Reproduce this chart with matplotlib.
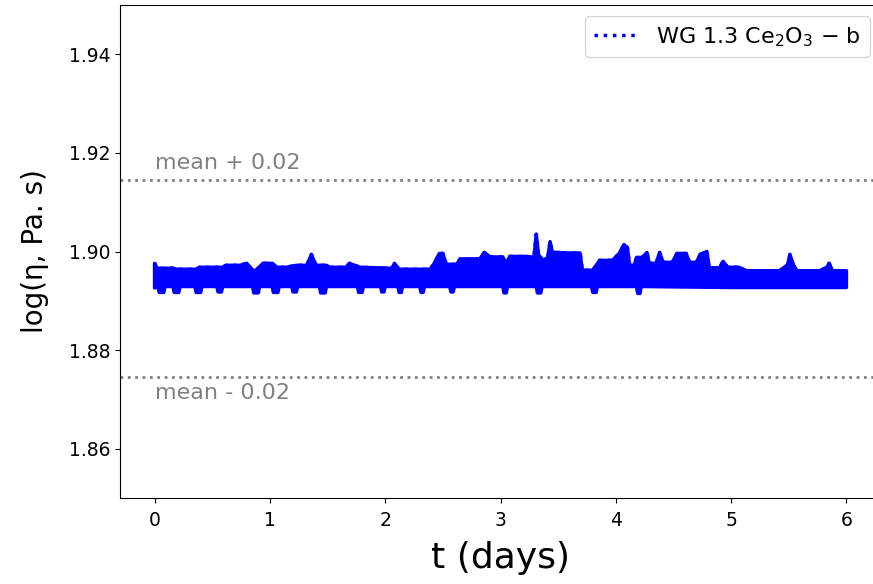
import numpy as np
import matplotlib
matplotlib.use('Agg')
import matplotlib.pyplot as plt

# Envelope of the viscosity record (days, log eta)
t_upper = [0.00, 0.02, 0.16, 0.19, 0.36, 0.39, 0.59, 0.62, 0.74, 0.80,
           0.85, 0.88, 0.94, 1.02, 1.06, 1.14, 1.23, 1.32, 1.36, 1.40,
           1.49, 1.52, 1.66, 1.69, 1.78, 2.06, 2.08, 2.12, 2.39, 2.42,
           2.47, 2.50, 2.53, 2.62, 2.65, 2.82, 2.86, 2.91, 3.02, 3.05,
           3.08, 3.23, 3.29, 3.31, 3.33, 3.37, 3.41, 3.43, 3.45, 3.51,
           3.57, 3.69, 3.71, 3.80, 3.86, 3.97, 4.03, 4.07, 4.10, 4.12,
           4.16, 4.18, 4.23, 4.27, 4.29, 4.35, 4.38, 4.41, 4.49, 4.53,
           4.61, 4.64, 4.70, 4.73, 4.79, 4.81, 4.90, 4.93, 4.97, 5.07,
           5.13, 5.42, 5.49, 5.51, 5.54, 5.57, 5.77, 5.83, 5.85, 5.88,
           6.00]
eta_upper = [1.8976, 1.8966, 1.8966, 1.8964, 1.8964, 1.8968, 1.8968, 1.8972, 1.8972, 1.8976,
             1.8962, 1.8962, 1.8976, 1.8976, 1.8968, 1.8968, 1.8972, 1.8972, 1.8994, 1.8972,
             1.8972, 1.8968, 1.8968, 1.8976, 1.8968, 1.8966, 1.8976, 1.8964, 1.8964, 1.8974,
             1.8996, 1.8996, 1.8974, 1.8974, 1.8985, 1.8985, 1.8998, 1.8989, 1.8989, 1.8976,
             1.8990, 1.8990, 1.8988, 1.9035, 1.8993, 1.8982, 1.8988, 1.9020, 1.8998, 1.8998,
             1.8997, 1.8997, 1.8962, 1.8962, 1.8982, 1.8982, 1.8996, 1.9014, 1.9008, 1.8972,
             1.8972, 1.8988, 1.8988, 1.8998, 1.8976, 1.8976, 1.8998, 1.8978, 1.8978, 1.8996,
             1.8996, 1.8978, 1.8978, 1.8994, 1.9000, 1.8967, 1.8967, 1.8980, 1.8968, 1.8968,
             1.8961, 1.8961, 1.8973, 1.8994, 1.8973, 1.8961, 1.8961, 1.8968, 1.8976, 1.8961,
             1.8961]

t_lower = [0.00, 0.03, 0.04, 0.08, 0.09, 0.16, 0.17, 0.21, 0.22, 0.35,
           0.36, 0.40, 0.41, 0.54, 0.55, 0.58, 0.59, 0.85, 0.86, 0.90,
           0.91, 1.02, 1.03, 1.07, 1.08, 1.19, 1.20, 1.23, 1.24, 1.43,
           1.44, 1.48, 1.49, 1.76, 1.77, 1.80, 1.81, 1.96, 1.97, 1.99,
           2.00, 2.11, 2.12, 2.14, 2.15, 2.30, 2.31, 2.33, 2.34, 2.56,
           2.57, 2.59, 2.60, 3.02, 3.03, 3.05, 3.06, 3.31, 3.32, 3.35,
           3.36, 3.79, 3.80, 3.83, 3.84, 4.18, 4.19, 4.21, 4.22, 5.00,
           6.00]
eta_lower = [1.8926, 1.8928, 1.8917, 1.8917, 1.8929, 1.8929, 1.8917, 1.8917, 1.8929, 1.8929,
             1.8917, 1.8917, 1.8929, 1.8929, 1.8918, 1.8918, 1.8929, 1.8929, 1.8916, 1.8916,
             1.8929, 1.8929, 1.8917, 1.8917, 1.8929, 1.8929, 1.8918, 1.8918, 1.8929, 1.8929,
             1.8916, 1.8916, 1.8929, 1.8929, 1.8917, 1.8917, 1.8929, 1.8929, 1.8918, 1.8918,
             1.8929, 1.8929, 1.8917, 1.8917, 1.8929, 1.8929, 1.8917, 1.8917, 1.8929, 1.8929,
             1.8918, 1.8918, 1.8929, 1.8929, 1.8916, 1.8916, 1.8929, 1.8929, 1.8916, 1.8916,
             1.8929, 1.8929, 1.8917, 1.8917, 1.8929, 1.8929, 1.8915, 1.8915, 1.8929, 1.8927,
             1.8927]

mean_eta = 1.8945
band = 0.02

fig = plt.figure(figsize=(8.73, 5.84), dpi=100)
ax = fig.add_axes([120/873, 86/584, 761/873, 493/584])

# band of the noisy record
ax.fill(np.r_[t_upper, t_lower[::-1]], np.r_[eta_upper, eta_lower[::-1]],
        facecolor='blue', edgecolor='blue', lw=2.5, joinstyle='round')
ax.plot(t_upper, eta_upper, ':', color='blue', lw=2.5,
        label=r'WG 1.3 Ce$_2$O$_3$ $-$ b')

# mean +/- 0.02 lines
ax.axhline(mean_eta + band, color='gray', ls=':', lw=2)
ax.axhline(mean_eta - band, color='gray', ls=':', lw=2)
ax.text(0.0, mean_eta + band + 0.0014, 'mean + 0.02', color='gray',
        fontsize=16, va='bottom')
ax.text(0.0, mean_eta - band - 0.0012, 'mean - 0.02', color='gray',
        fontsize=16, va='top')

ax.set_xlim(-0.3, 6.3)
ax.set_ylim(1.85, 1.95)
ax.set_xticks(range(0, 7))
ax.set_yticks([1.86, 1.88, 1.90, 1.92, 1.94])
ax.tick_params(labelsize=13.5)
ax.tick_params(axis='x', pad=6)
ax.spines['right'].set_visible(False)
ax.set_xlabel('t (days)', fontsize=26, labelpad=8)
ax.set_ylabel('log(η, Pa. s)', fontsize=20, labelpad=14)
ax.legend(loc='upper right', fontsize=16)

fig.savefig('out.png', dpi=100)
